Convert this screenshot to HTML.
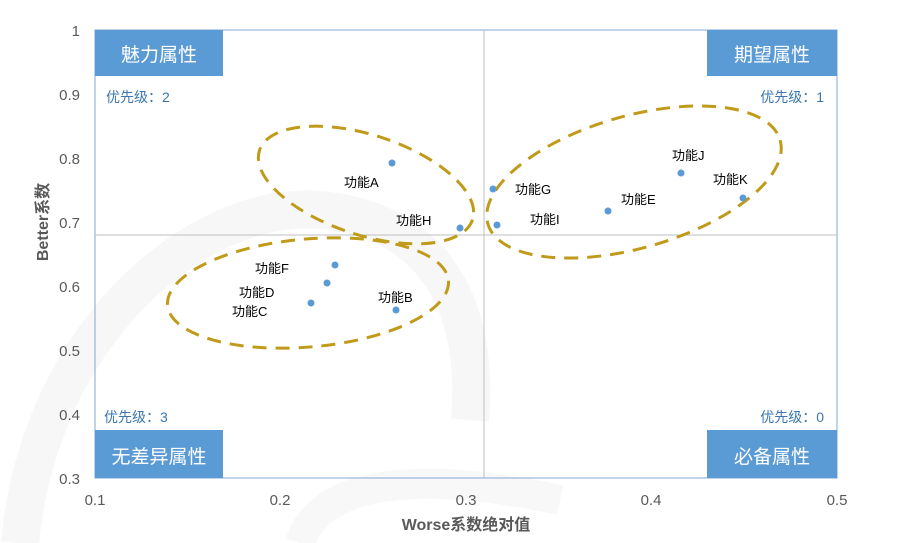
<!DOCTYPE html>
<html><head><meta charset="utf-8"><style>
html,body{margin:0;padding:0;background:#fff;}
svg{display:block;font-family:"Liberation Sans","Noto Sans CJK SC",sans-serif;}
</style></head><body>
<svg width="915" height="543" viewBox="0 0 915 543" xmlns="http://www.w3.org/2000/svg">
<rect width="915" height="543" fill="#fff"/>
<!-- watermark -->
<path d="M20 543 C40 330 200 200 320 210 C430 220 480 300 470 420" fill="none" stroke="#f7f7f7" stroke-width="38"/>
<path d="M300 543 C320 480 420 470 560 500" fill="none" stroke="#f8f8f8" stroke-width="30"/>
<!-- plot border -->
<rect x="95" y="30" width="742" height="448" fill="none" stroke="#7fa7d3" stroke-width="1"/>
<line x1="484" y1="30" x2="484" y2="478" stroke="#bfbfbf" stroke-width="1"/>
<line x1="95" y1="235" x2="837" y2="235" stroke="#bfbfbf" stroke-width="1"/>
<!-- quadrant boxes -->
<rect x="95" y="30" width="128" height="46" fill="#5b9bd5"/>
<text x="159" y="61" font-size="19" fill="#fff" text-anchor="middle">魅力属性</text>
<rect x="707" y="30" width="130" height="46" fill="#5b9bd5"/>
<text x="772" y="61" font-size="19" fill="#fff" text-anchor="middle">期望属性</text>
<rect x="95" y="430" width="128" height="48" fill="#5b9bd5"/>
<text x="159" y="463" font-size="19" fill="#fff" text-anchor="middle">无差异属性</text>
<rect x="707" y="430" width="130" height="48" fill="#5b9bd5"/>
<text x="772" y="463" font-size="19" fill="#fff" text-anchor="middle">必备属性</text>
<g font-size="14" fill="#3a77b0">
<text x="106" y="102">优先级：2</text>
<text x="824" y="102" text-anchor="end">优先级：1</text>
<text x="104" y="422">优先级：3</text>
<text x="824" y="422" text-anchor="end">优先级：0</text>
</g>
<!-- axes labels -->
<g font-size="15" fill="#595959">
<text x="80" y="36" text-anchor="end">1</text>
<text x="80" y="100" text-anchor="end">0.9</text>
<text x="80" y="164" text-anchor="end">0.8</text>
<text x="80" y="228" text-anchor="end">0.7</text>
<text x="80" y="292" text-anchor="end">0.6</text>
<text x="80" y="356" text-anchor="end">0.5</text>
<text x="80" y="420" text-anchor="end">0.4</text>
<text x="80" y="484" text-anchor="end">0.3</text>
<text x="95" y="505" text-anchor="middle">0.1</text>
<text x="280" y="505" text-anchor="middle">0.2</text>
<text x="466" y="505" text-anchor="middle">0.3</text>
<text x="651" y="505" text-anchor="middle">0.4</text>
<text x="837" y="505" text-anchor="middle">0.5</text>
</g>
<text x="466" y="530" font-size="16" font-weight="bold" fill="#595959" text-anchor="middle">Worse系数绝对值</text>
<text transform="translate(48,222) rotate(-90)" font-size="16" font-weight="bold" fill="#595959" text-anchor="middle">Better系数</text>
<!-- ellipses -->
<g fill="none" stroke="#c09a1a" stroke-width="3" stroke-dasharray="14,9">
<ellipse cx="366" cy="185" rx="112" ry="50" transform="rotate(18 366 185)"/>
<ellipse cx="634" cy="182" rx="152" ry="66" transform="rotate(-16 634 182)"/>
<ellipse cx="308" cy="293" rx="141" ry="54" transform="rotate(-5 308 293)"/>
</g>
<!-- points -->
<g fill="#5b9bd5">
<circle cx="392" cy="163" r="3.5"/>
<circle cx="460" cy="228" r="3.5"/>
<circle cx="493" cy="189" r="3.5"/>
<circle cx="497" cy="225" r="3.5"/>
<circle cx="608" cy="211" r="3.5"/>
<circle cx="681" cy="173" r="3.5"/>
<circle cx="743" cy="198" r="3.5"/>
<circle cx="335" cy="265" r="3.5"/>
<circle cx="327" cy="283" r="3.5"/>
<circle cx="311" cy="303" r="3.5"/>
<circle cx="396" cy="310" r="3.5"/>
</g>
<g font-size="13" fill="#000">
<text x="344" y="187">功能A</text>
<text x="396" y="225">功能H</text>
<text x="515" y="194">功能G</text>
<text x="530" y="224">功能I</text>
<text x="621" y="204">功能E</text>
<text x="672" y="160">功能J</text>
<text x="713" y="184">功能K</text>
<text x="255" y="273">功能F</text>
<text x="239" y="297">功能D</text>
<text x="232" y="316">功能C</text>
<text x="378" y="302">功能B</text>
</g>
</svg>
</body></html>
